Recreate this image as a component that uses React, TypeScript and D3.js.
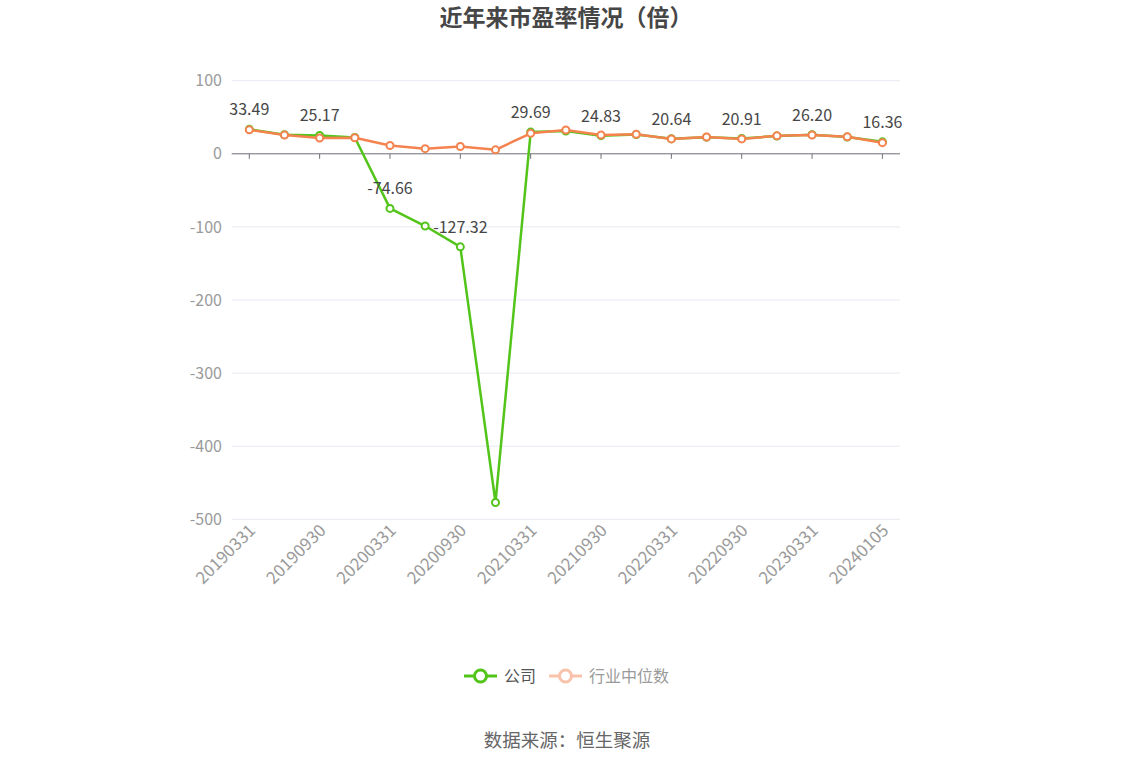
import React, { useRef, useEffect } from 'react';
import * as d3 from 'd3';

const periods = [
  '20190331', '20190630', '20190930', '20191231', '20200331', '20200630', '20200930',
  '20201231', '20210331', '20210630', '20210930', '20211231', '20220331', '20220630',
  '20220930', '20221231', '20230331', '20230630', '20240105',
];
const companyPE = [
  33.49, 26.0, 25.17, 22.3, -74.66, -98.8, -127.32, -477.0, 29.69, 31.2,
  24.83, 26.4, 20.64, 22.8, 20.91, 24.4, 26.2, 23.0, 16.36,
];
const industryPE = [
  32.8, 25.6, 21.6, 22.0, 11.3, 7.0, 10.0, 5.4, 28.0, 32.6,
  25.6, 26.6, 20.4, 23.0, 20.4, 24.6, 25.6, 23.2, 15.2,
];
const yTicks = [100, 0, -100, -200, -300, -400, -500];

const GREEN = '#52C41A';
const ORANGE = '#F5834F';
const FONT = '"Noto Sans CJK SC", "Noto Sans", sans-serif';

const App: React.FC = () => {
  const svgRef = useRef<SVGSVGElement | null>(null);

  useEffect(() => {
    document.body.style.margin = '0';
    if (!svgRef.current) return;
    const width = 1134;
    const height = 766;
    const svg = d3.select(svgRef.current);
    svg.selectAll('*').remove();
    svg.attr('width', width).attr('height', height).style('font-family', FONT);

    const left = 231.7, right = 900, top = 80.7, bottom = 519.3;

    const x = d3.scaleBand().domain(periods).range([left, right]).padding(0);
    const cx = (p: string) => x(p)! + x.bandwidth() / 2;
    const y = d3.scaleLinear().domain([-500, 100]).range([bottom, top]);

    // Title
    svg.append('text')
      .attr('x', width / 2 - 1).attr('y', 26)
      .attr('text-anchor', 'middle')
      .style('font-size', '23px').style('font-weight', 'bold')
      .style('fill', '#464646')
      .text('近年来市盈率情况（倍）');

    // Grid
    svg.append('g').selectAll('line')
      .data(yTicks.filter(t => t !== 0))
      .join('line')
      .attr('x1', left).attr('x2', right)
      .attr('y1', d => y(d)).attr('y2', d => y(d))
      .attr('stroke', '#E6E9F1').attr('stroke-width', 1);

    // Y labels
    svg.append('g').selectAll('text')
      .data(yTicks)
      .join('text')
      .attr('x', 222).attr('y', d => y(d))
      .attr('dy', '0.35em')
      .attr('text-anchor', 'end')
      .style('font-size', '16px').style('fill', '#9A9A9A')
      .text(d => String(d));

    // Zero axis
    svg.append('line')
      .attr('x1', left).attr('x2', right)
      .attr('y1', y(0)).attr('y2', y(0))
      .attr('stroke', '#6E7079').attr('stroke-width', 1);

    const labelled = periods.filter((_, i) => i % 2 === 0);
    svg.append('g').selectAll('line')
      .data(labelled)
      .join('line')
      .attr('x1', d => cx(d)).attr('x2', d => cx(d))
      .attr('y1', y(0)).attr('y2', y(0) + 5)
      .attr('stroke', '#6E7079');

    // X labels
    svg.append('g').selectAll('text')
      .data(labelled)
      .join('text')
      .attr('transform', d => `translate(${cx(d) + 3},${bottom + 8}) rotate(-45)`)
      .attr('text-anchor', 'end')
      .attr('dy', '0.35em')
      .style('font-size', '17px').style('fill', '#9A9A9A')
      .text(d => d);

    const line = d3.line<number>()
      .x((_, i) => cx(periods[i]))
      .y(d => y(d));

    const drawSeries = (values: number[], color: string) => {
      svg.append('path')
        .datum(values)
        .attr('d', line)
        .attr('fill', 'none')
        .attr('stroke', color).attr('stroke-width', 2.5)
        .attr('stroke-linejoin', 'round');
      svg.append('g').selectAll('circle')
        .data(values)
        .join('circle')
        .attr('cx', (_, i) => cx(periods[i]))
        .attr('cy', d => y(d))
        .attr('r', 3.5)
        .attr('fill', '#fff')
        .attr('stroke', color).attr('stroke-width', 2);
    };

    drawSeries(companyPE, GREEN);
    drawSeries(industryPE, ORANGE);

    // Data labels (company, every other period)
    svg.append('g').selectAll('text')
      .data(companyPE.map((v, i) => ({ v, i })).filter(d => d.i % 2 === 0))
      .join('text')
      .attr('x', d => cx(periods[d.i]))
      .attr('y', d => y(d.v) - 14)
      .attr('text-anchor', 'middle')
      .style('font-size', '16px').style('fill', '#464646')
      .text(d => d.v.toFixed(2));

    // Legend
    const legend = svg.append('g').attr('transform', 'translate(0,676)');
    const items = [
      { name: '公司', color: GREEN, text: '#555', x: 464 },
      { name: '行业中位数', color: '#F9C2AA', text: '#9A9A9A', x: 549 },
    ];
    const item = legend.selectAll('g').data(items).join('g')
      .attr('transform', d => `translate(${d.x},0)`);
    item.append('line')
      .attr('x1', 0).attr('x2', 33).attr('y1', 0).attr('y2', 0)
      .attr('stroke', d => d.color).attr('stroke-width', 3);
    item.append('circle')
      .attr('cx', 16.5).attr('cy', 0).attr('r', 6)
      .attr('fill', '#fff')
      .attr('stroke', d => d.color).attr('stroke-width', 3);
    item.append('text')
      .attr('x', 40).attr('dy', '0.35em')
      .style('font-size', '16px').style('fill', d => d.text)
      .text(d => d.name);

    // Source
    svg.append('text')
      .attr('x', width / 2).attr('y', 741)
      .attr('dy', '0.35em')
      .attr('text-anchor', 'middle')
      .style('font-size', '18.5px').style('fill', '#666')
      .text('数据来源：恒生聚源');
  }, []);

  return <svg ref={svgRef} style={{ display: 'block' }}></svg>;
};

export default App;
